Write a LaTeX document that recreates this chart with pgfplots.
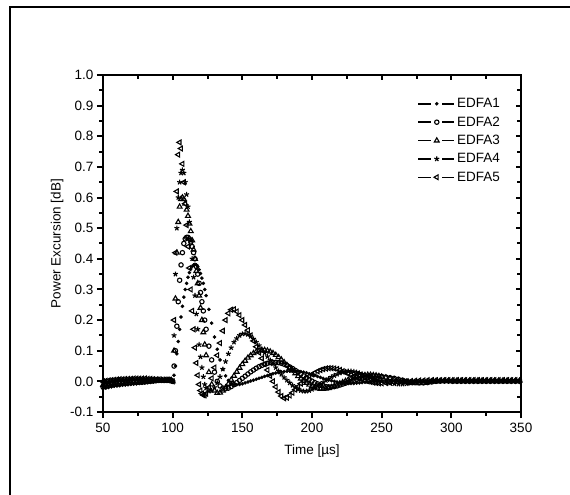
\documentclass[border=0pt]{standalone}
\usepackage{pgfplots}
\usepackage{pgfplotstable}
\pgfplotsset{compat=1.18}
\usepackage{fontspec}
\setmainfont{Liberation Sans}
\pgfplotstableread{
t e1 e2 e3 e4 e5
50 -0.024 -0.018 -0.012 -0.006 0.000
52 -0.022 -0.016 -0.010 -0.004 0.002
54 -0.020 -0.014 -0.008 -0.002 0.003
56 -0.018 -0.012 -0.006 0.000 0.004
58 -0.016 -0.010 -0.005 0.001 0.005
60 -0.015 -0.009 -0.004 0.002 0.006
62 -0.014 -0.008 -0.003 0.003 0.007
64 -0.013 -0.007 -0.002 0.003 0.007
66 -0.012 -0.006 -0.001 0.004 0.008
68 -0.011 -0.005 0.000 0.004 0.008
70 -0.010 -0.005 0.000 0.005 0.008
72 -0.009 -0.004 0.001 0.005 0.009
74 -0.008 -0.004 0.001 0.005 0.009
76 -0.007 -0.003 0.001 0.005 0.009
78 -0.006 -0.003 0.002 0.005 0.009
80 -0.005 -0.002 0.002 0.005 0.009
82 -0.004 -0.001 0.002 0.005 0.008
84 -0.003 0.000 0.002 0.005 0.008
86 -0.002 0.001 0.003 0.005 0.007
88 0.000 0.002 0.003 0.005 0.006
90 0.002 0.003 0.004 0.005 0.006
92 0.003 0.003 0.004 0.005 0.005
94 0.003 0.003 0.004 0.005 0.005
96 0.003 0.003 0.004 0.005 0.005
98 0.003 0.003 0.004 0.005 0.005
100 0.000 0.000 0.000 0.000 0.000
101 0.020 0.050 0.100 0.150 0.200
102 0.050 0.100 0.270 0.350 0.420
103 0.090 0.180 0.420 0.500 0.620
104 0.130 0.260 0.520 0.600 0.740
105 0.170 0.330 0.570 0.650 0.780
106 0.210 0.380 0.595 0.680 0.760
107 0.245 0.420 0.600 0.690 0.710
108 0.275 0.450 0.595 0.680 0.650
109 0.300 0.465 0.580 0.650 0.580
110 0.320 0.470 0.560 0.610 0.510
111 0.340 0.470 0.540 0.570 0.440
112 0.355 0.465 0.515 0.520 0.370
113 0.367 0.455 0.490 0.460 0.300
114 0.375 0.440 0.460 0.400 0.230
115 0.380 0.420 0.430 0.340 0.170
116 0.382 0.400 0.400 0.280 0.110
117 0.380 0.375 0.360 0.220 0.060
118 0.374 0.350 0.320 0.170 0.020
119 0.365 0.320 0.280 0.120 -0.010
120 0.352 0.290 0.240 0.080 -0.030
121 0.337 0.260 0.200 0.045 -0.040
122 0.320 0.230 0.160 0.015 -0.045
123 0.300 0.200 0.120 -0.010 -0.045
124 0.280 0.170 0.085 -0.022 -0.040
126 0.235 0.115 0.030 -0.032 -0.020
128 0.190 0.070 -0.010 -0.030 0.010
130 0.145 0.030 -0.030 -0.020 0.045
132 0.105 0.000 -0.038 -0.005 0.085
134 0.070 -0.015 -0.037 0.015 0.125
136 0.040 -0.022 -0.030 0.040 0.165
138 0.018 -0.024 -0.020 0.065 0.200
140 0.003 -0.022 -0.008 0.090 0.222
142 -0.006 -0.017 0.005 0.110 0.234
144 -0.010 -0.011 0.018 0.128 0.235
146 -0.011 -0.004 0.031 0.140 0.228
148 -0.010 0.003 0.044 0.150 0.216
150 -0.008 0.010 0.056 0.155 0.200
152 -0.005 0.017 0.067 0.156 0.184
154 -0.002 0.024 0.077 0.153 0.167
156 0.001 0.031 0.085 0.147 0.150
158 0.004 0.037 0.092 0.138 0.132
160 0.007 0.043 0.097 0.128 0.113
162 0.010 0.048 0.100 0.117 0.094
164 0.013 0.052 0.102 0.105 0.075
166 0.016 0.056 0.102 0.093 0.056
168 0.019 0.059 0.100 0.081 0.037
170 0.022 0.061 0.097 0.069 0.018
172 0.025 0.062 0.092 0.057 0.000
174 0.027 0.062 0.086 0.045 -0.018
176 0.029 0.061 0.079 0.034 -0.035
178 0.031 0.059 0.071 0.023 -0.048
180 0.032 0.056 0.062 0.013 -0.055
182 0.033 0.052 0.053 0.004 -0.053
184 0.034 0.047 0.044 -0.005 -0.046
186 0.034 0.042 0.035 -0.013 -0.037
188 0.034 0.036 0.026 -0.020 -0.027
190 0.033 0.030 0.017 -0.026 -0.017
192 0.032 0.024 0.009 -0.030 -0.007
194 0.030 0.018 0.002 -0.032 0.002
196 0.028 0.012 -0.005 -0.032 0.010
198 0.025 0.006 -0.011 -0.030 0.017
200 0.022 0.001 -0.016 -0.026 0.023
202 0.019 -0.004 -0.020 -0.021 0.028
204 0.016 -0.008 -0.023 -0.015 0.033
206 0.013 -0.012 -0.025 -0.009 0.037
208 0.010 -0.015 -0.025 -0.003 0.040
210 0.007 -0.017 -0.024 0.003 0.042
212 0.004 -0.018 -0.022 0.009 0.043
214 0.002 -0.018 -0.019 0.014 0.043
216 0.000 -0.017 -0.015 0.019 0.042
218 -0.002 -0.015 -0.011 0.023 0.040
220 -0.004 -0.012 -0.007 0.027 0.037
222 -0.005 -0.009 -0.003 0.030 0.033
224 -0.006 -0.006 0.001 0.032 0.029
226 -0.007 -0.003 0.005 0.033 0.025
228 -0.007 0.000 0.009 0.033 0.021
230 -0.007 0.003 0.012 0.032 0.017
232 -0.006 0.006 0.015 0.030 0.013
234 -0.005 0.009 0.017 0.027 0.009
236 -0.004 0.011 0.019 0.024 0.006
238 -0.003 0.013 0.020 0.020 0.003
240 -0.002 0.015 0.021 0.016 0.000
242 -0.001 0.016 0.021 0.012 -0.002
244 0.000 0.017 0.020 0.008 -0.004
246 0.001 0.017 0.019 0.005 -0.005
248 0.002 0.017 0.017 0.002 -0.006
250 0.003 0.016 0.015 0.000 -0.006
253 0.003 0.014 0.012 -0.003 -0.005
256 0.002 0.012 0.009 -0.006 -0.004
259 0.002 0.010 0.006 -0.008 -0.003
262 0.001 0.007 0.003 -0.009 -0.002
265 0.001 0.004 0.000 -0.009 -0.001
268 0.000 0.001 -0.003 -0.008 0.000
271 0.000 -0.002 -0.005 -0.006 0.001
274 0.000 -0.004 -0.006 -0.004 0.002
277 -0.001 -0.005 -0.006 -0.002 0.003
280 -0.001 -0.005 -0.005 0.000 0.003
283 -0.001 -0.004 -0.003 0.001 0.004
286 -0.002 -0.002 -0.001 0.002 0.004
289 -0.002 0.000 0.000 0.003 0.004
292 -0.002 0.001 0.001 0.003 0.004
295 -0.002 0.001 0.002 0.003 0.004
298 -0.002 0.001 0.002 0.003 0.004
301 -0.002 0.000 0.002 0.003 0.004
304 -0.002 0.000 0.002 0.003 0.004
307 -0.002 0.000 0.002 0.003 0.004
310 -0.002 0.000 0.002 0.003 0.004
313 -0.002 0.000 0.002 0.003 0.004
316 -0.002 0.000 0.002 0.003 0.004
319 -0.002 0.000 0.002 0.003 0.004
322 -0.002 0.000 0.002 0.003 0.004
325 -0.002 0.000 0.002 0.003 0.004
328 -0.002 0.000 0.002 0.003 0.004
331 -0.002 0.000 0.002 0.003 0.004
334 -0.002 0.000 0.002 0.003 0.004
337 -0.002 0.000 0.002 0.003 0.004
340 -0.002 0.000 0.002 0.003 0.004
343 -0.002 0.000 0.002 0.003 0.004
346 -0.002 0.000 0.002 0.003 0.004
349 -0.002 0.000 0.002 0.003 0.004
}\data
\newcommand{\fs}{\fontsize{13.5}{16}\selectfont}
\begin{document}
\begin{tikzpicture}
\path[use as bounding box] (0pt,0pt) rectangle (570pt,495pt);
\draw[line width=2pt] (10pt,0pt) -- (10pt,488pt) -- (571pt,488pt);
\begin{axis}[
  at={(103pt,83pt)}, anchor=south west,
  width=418pt, height=337pt, scale only axis,
  xmin=50, xmax=350, ymin=-0.1, ymax=1.0,
  axis line style={line width=2pt},
  every tick/.style={black, line width=2pt},
  major tick length=6pt, minor tick length=3.5pt,
  tick align=outside,
  xtick pos=left, ytick pos=left,
  xtick={50,100,...,350}, minor x tick num=1,
  ytick={-0.1,0,0.1,0.2,0.3,0.4,0.5,0.6,0.7,0.8,0.9,1.0}, minor y tick num=1,
  yticklabel style={/pgf/number format/.cd, fixed, fixed zerofill, precision=1},
  xticklabel style={yshift=-2pt},
  /pgf/number format/assume math mode=true,
  tick label style={font=\fs},
  label style={font=\fs},
  xlabel={Time [µs]}, ylabel={Power Excursion [dB]},
  xlabel style={yshift=-5pt},
  ylabel style={yshift=0pt},
  legend cell align=left,
  legend style={draw=none, fill=none, font=\fs, at={(0.752,0.937)}, anchor=north west, row sep=3.5pt, inner sep=0pt},
  legend image code/.code={
    \draw[#1, mark=none, line width=1.5pt] (0pt,0pt) -- (13pt,0pt) (24pt,0pt) -- (36pt,0pt);
    \draw[#1] plot coordinates {(18.5pt,0pt)};
  },
]
\addplot[only marks, mark=*, mark size=1.6pt, black] table[x=t,y=e1] {\data};
\addlegendentry{EDFA1}
\addplot[only marks, mark=o, mark size=2.2pt, black, mark options={line width=1.1pt}] table[x=t,y=e2] {\data};
\addlegendentry{EDFA2}
\addplot[only marks, mark=triangle, mark size=2.8pt, black, mark options={line width=1.1pt}] table[x=t,y=e3] {\data};
\addlegendentry{EDFA3}
\addplot[only marks, mark=star, mark size=2.6pt, black, mark options={line width=1.1pt}] table[x=t,y=e4] {\data};
\addlegendentry{EDFA4}
\addplot[only marks, mark=triangle, mark size=2.8pt, black, mark options={rotate=90, line width=1.1pt}] table[x=t,y=e5] {\data};
\addlegendentry{EDFA5}
\end{axis}
\begin{axis}[
  at={(103pt,83pt)}, anchor=south west,
  width=418pt, height=337pt, scale only axis,
  xmin=50, xmax=350, ymin=-0.1, ymax=1.0,
  axis line style={line width=2pt},
  every tick/.style={black, line width=2pt},
  major tick length=5pt, minor tick length=4pt,
  tick align=inside,
  xtick pos=right, ytick pos=right,
  xtick={50,100,...,350}, minor x tick num=1,
  ytick={-0.1,0,0.1,0.2,0.3,0.4,0.5,0.6,0.7,0.8,0.9,1.0}, minor y tick num=1,
  xticklabels={}, yticklabels={},
]
\end{axis}
\end{tikzpicture}
\end{document}
